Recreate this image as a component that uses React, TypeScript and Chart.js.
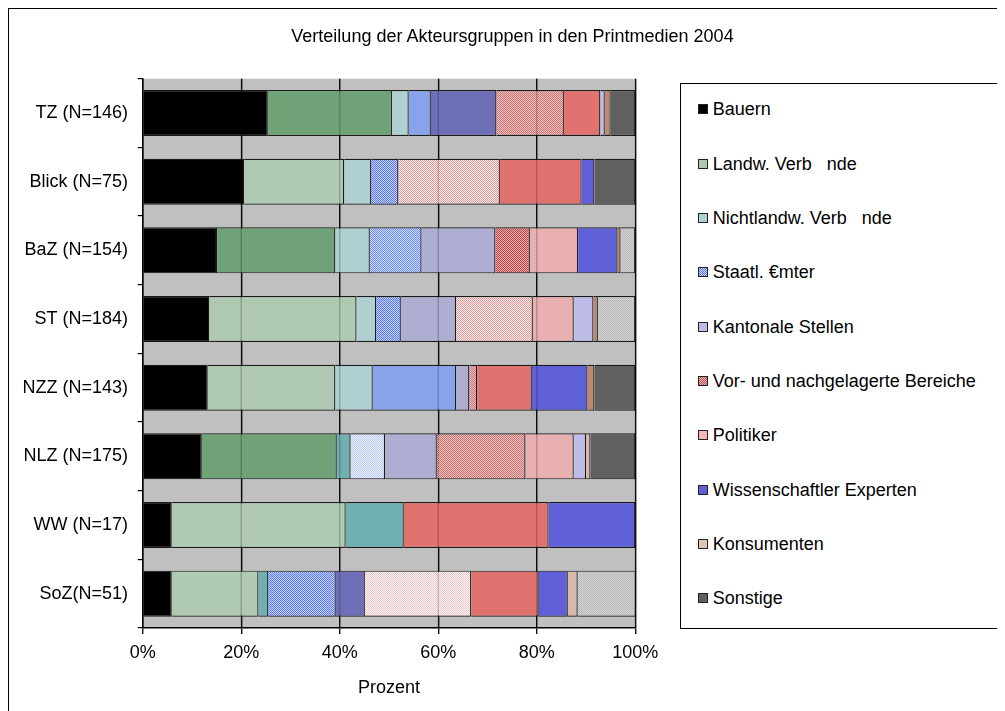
import React, { useEffect, useRef } from 'react';
import { Chart, registerables } from 'chart.js';

Chart.register(...registerables);

// ---------- data ----------
const categories = [
  'TZ (N=146)',
  'Blick (N=75)',
  'BaZ (N=154)',
  'ST (N=184)',
  'NZZ (N=143)',
  'NLZ (N=175)',
  'WW (N=17)',
  'SoZ(N=51)',
];

const seriesNames = [
  'Bauern',
  'Landw. Verb   nde',
  'Nichtlandw. Verb   nde',
  'Staatl. €mter',
  'Kantonale Stellen',
  'Vor- und nachgelagerte Bereiche',
  'Politiker',
  'Wissenschaftler Experten',
  'Konsumenten',
  'Sonstige',
];

const bauern = [25.4, 20.6, 15.1, 13.5, 13.2, 12.0, 5.9, 5.9];
const landwVerbaende = [25.2, 20.3, 24.0, 29.9, 25.9, 27.4, 35.3, 17.6];
const nichtlandwVerbaende = [3.4, 5.5, 7.0, 4.0, 7.6, 2.8, 11.8, 2.0];
const staatlAemter = [4.5, 5.5, 10.5, 5.0, 16.9, 7.0, 0, 13.7];
const kantonaleStellen = [13.3, 0, 15.0, 11.2, 2.7, 10.5, 0, 5.9];
const vorNachgelagert = [13.7, 20.6, 7.0, 15.6, 1.6, 18.0, 0, 21.6];
const politiker = [7.4, 16.6, 9.8, 8.3, 11.1, 9.8, 29.4, 13.7];
const wissenschaftler = [0.9, 2.6, 8.0, 4.0, 11.3, 2.5, 17.6, 5.9];
const konsumenten = [1.2, 0, 0.6, 0.9, 1.4, 0.9, 0, 2.0];
const sonstige = [5.0, 8.3, 3.0, 7.6, 8.3, 9.1, 0, 11.8];

const seriesValues = [
  bauern,
  landwVerbaende,
  nichtlandwVerbaende,
  staatlAemter,
  kantonaleStellen,
  vorNachgelagert,
  politiker,
  wissenschaftler,
  konsumenten,
  sonstige,
];

const xTickValues = [0, 20, 40, 60, 80, 100];

// ---------- styles ----------
const FONT_FAMILY = '"Liberation Sans", Arial, sans-serif';

const solidColors: Record<string, string> = {
  black: '#000000',
  dkGreen: '#6fa377',
  ltGreen: '#b0c9b3',
  ltTeal: '#b0cfd0',
  teal: '#70b0b2',
  peri: '#89a3eb',
  slate: '#6f6fb8',
  lav: '#aeaed3',
  ltLav: '#bebde8',
  red: '#e07370',
  pink: '#e8b0b0',
  blue: '#5f5fd8',
  brown: '#c08870',
  tan: '#d8b8aa',
  dkGray: '#606060',
};

const hatchColors: Record<string, [string, string]> = {
  hBlue: ['#5577ff', '#c9d5ff'],
  hBlueLt: ['#6d8cff', '#d0dcff'],
  hBluePale: ['#b8c8f8', '#eef2ff'],
  hRed: ['#cc7070', '#ecc4c4'],
  hRedDk: ['#b84444', '#e8b0b0'],
  hPink: ['#e89898', '#fff0f0'],
  hPinkLt: ['#f0c4c4', '#fff8f8'],
  ltGrayH: ['#b8b8b8', '#d4d4d4'],
};

// per series (rows) x category (cols)
const segmentStyle = [
  ['black', 'black', 'black', 'black', 'black', 'black', 'black', 'black'],
  ['dkGreen', 'ltGreen', 'dkGreen', 'ltGreen', 'ltGreen', 'dkGreen', 'ltGreen', 'ltGreen'],
  ['ltTeal', 'ltTeal', 'ltTeal', 'ltTeal', 'ltTeal', 'teal', 'teal', 'teal'],
  ['peri', 'hBlue', 'hBlueLt', 'hBlue', 'peri', 'hBluePale', 'peri', 'hBlue'],
  ['slate', 'lav', 'lav', 'lav', 'lav', 'lav', 'lav', 'slate'],
  ['hRed', 'hPink', 'hRedDk', 'hPink', 'hRed', 'hRed', 'hRed', 'hPinkLt'],
  ['red', 'red', 'pink', 'pink', 'red', 'pink', 'red', 'red'],
  ['ltLav', 'blue', 'blue', 'ltLav', 'blue', 'ltLav', 'blue', 'blue'],
  ['brown', 'brown', 'brown', 'brown', 'brown', 'tan', 'tan', 'tan'],
  ['dkGray', 'dkGray', 'ltGrayH', 'ltGrayH', 'dkGray', 'dkGray', 'dkGray', 'ltGrayH'],
];

const legendSwatches = [
  'black',
  '#b0c9b3',
  '#b0cfd0',
  'repeating-conic-gradient(#5577ff 0 25%, #c9d5ff 0 50%) 0 0 / 2px 2px',
  '#bebde8',
  'repeating-conic-gradient(#b85050 0 25%, #e8b8b8 0 50%) 0 0 / 2px 2px',
  '#f4b8b8',
  '#5f5fd8',
  '#e0c4b8',
  '#606060',
];

function makePattern(ctx: CanvasRenderingContext2D, c1: string, c2: string) {
  const cv = document.createElement('canvas');
  cv.width = 2;
  cv.height = 2;
  const g = cv.getContext('2d') as CanvasRenderingContext2D;
  g.fillStyle = c2;
  g.fillRect(0, 0, 2, 2);
  g.fillStyle = c1;
  g.fillRect(0, 0, 1, 1);
  g.fillRect(1, 1, 1, 1);
  return ctx.createPattern(cv, 'repeat') as CanvasPattern;
}

const plotBackground = {
  id: 'plotBackground',
  beforeDraw(chart: any) {
    const { ctx, chartArea } = chart;
    ctx.save();
    ctx.fillStyle = '#c0c0c0';
    ctx.fillRect(chartArea.left, chartArea.top, chartArea.right - chartArea.left, chartArea.bottom - chartArea.top);
    ctx.restore();
  },
};

const gridOverlay = {
  id: 'gridOverlay',
  afterDatasetsDraw(chart: any) {
    const { ctx, chartArea, scales } = chart;
    ctx.save();
    ctx.strokeStyle = 'rgba(0,0,0,0.22)';
    ctx.lineWidth = 1.4;
    xTickValues.forEach((v) => {
      const px = scales.x.getPixelForValue(v);
      ctx.beginPath();
      ctx.moveTo(px, chartArea.top);
      ctx.lineTo(px, chartArea.bottom);
      ctx.stroke();
    });
    ctx.restore();
  },
};

export default function App() {
  const canvasRef = useRef<HTMLCanvasElement | null>(null);

  useEffect(() => {
    document.body.style.overflow = 'hidden';
    document.documentElement.style.overflow = 'hidden';
    const canvas = canvasRef.current;
    if (!canvas) return;
    const ctx = canvas.getContext('2d') as CanvasRenderingContext2D;

    const fills: Record<string, any> = { ...solidColors };
    Object.keys(hatchColors).forEach((k) => {
      fills[k] = makePattern(ctx, hatchColors[k][0], hatchColors[k][1]);
    });

    const font = { family: FONT_FAMILY, size: 18 };

    const chart = new Chart(canvas, {
      type: 'bar',
      data: {
        labels: categories,
        datasets: seriesNames.map((name, i) => ({
          label: name,
          data: seriesValues[i],
          backgroundColor: segmentStyle[i].map((k) => fills[k]),
          borderColor: '#1a1a1a',
          borderWidth: 1.2,
          barPercentage: 0.67,
          categoryPercentage: 1,
        })),
      },
      options: {
        indexAxis: 'y',
        animation: false,
        responsive: true,
        maintainAspectRatio: false,
        layout: { padding: { left: 0, right: 373.7, top: 69.7, bottom: 20.2 } },
        plugins: {
          legend: { display: false },
          title: { display: false },
          tooltip: { enabled: false },
        },
        scales: {
          x: {
            stacked: true,
            min: 0,
            max: 100,
            afterBuildTicks: (scale: any) => {
              scale.ticks = xTickValues.map((v) => ({ value: v }));
            },
            ticks: {
              font,
              color: '#000',
              padding: 8,
              maxRotation: 0,
              autoSkip: false,
              callback: (v: any) => `${v}%`,
            },
            grid: { color: '#111', lineWidth: 1.4, tickLength: 6, drawOnChartArea: true },
            border: { color: '#000', width: 1.4 },
            title: {
              display: true,
              text: 'Prozent',
              font,
              color: '#000',
              padding: { top: 13.6, bottom: 0 },
            },
            afterFit: (scale: any) => {
              scale.height = 70.8;
            },
          },
          y: {
            stacked: true,
            ticks: { font, color: '#000', padding: 9.7, autoSkip: false },
            grid: { drawOnChartArea: false, tickLength: 5, color: '#000', offset: true, lineWidth: 1.2 },
            border: { color: '#000', width: 1.4 },
            afterFit: (scale: any) => {
              scale.width = 133.7;
            },
          },
        },
      },
      plugins: [plotBackground, gridOverlay],
    } as any);

    return () => chart.destroy();
  }, []);

  const legendTop0 = 109.3 - 9 - 9; // center of first item, in container coords, minus half line height
  const legendStep = 54.33;

  return (
    <div
      style={{
        position: 'relative',
        width: 1000,
        height: 710,
        border: '1px solid #000',
        fontFamily: FONT_FAMILY,
        overflow: 'hidden',
      }}
    >
      <div style={{ position: 'absolute', left: 0, top: 0, width: 1000, height: 710 }}>
        <canvas ref={canvasRef} />
      </div>
      <div
        style={{
          position: 'absolute',
          left: 203.5,
          top: 16.7,
          width: 600,
          textAlign: 'center',
          fontSize: 18,
          lineHeight: '21px',
          whiteSpace: 'nowrap',
          color: '#000',
        }}
      >
        Verteilung der Akteursgruppen in den Printmedien 2004
      </div>
      <div
        style={{
          position: 'absolute',
          left: 671,
          top: 74,
          width: 320,
          height: 546,
          boxSizing: 'border-box',
          border: '1px solid #000',
          background: '#fff',
        }}
      />
      {seriesNames.map((name, i) => (
        <div
          key={name}
          style={{
            position: 'absolute',
            left: 689,
            top: legendTop0 + i * legendStep,
            height: 18,
            display: 'flex',
            alignItems: 'center',
            fontSize: 18,
            lineHeight: '18px',
            whiteSpace: 'pre',
            color: '#000',
          }}
        >
          <span
            style={{
              display: 'inline-block',
              width: 10,
              height: 10,
              boxSizing: 'border-box',
              border: '1px solid #222',
              background: legendSwatches[i],
              marginRight: 4.7,
            }}
          />
          <span>{name}</span>
        </div>
      ))}
    </div>
  );
}
